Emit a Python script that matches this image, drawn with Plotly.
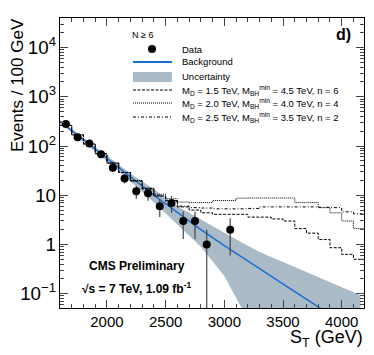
import plotly.graph_objects as go

# Dados (N >= 6)
st_data = [1650, 1750, 1850, 1950, 2050, 2150, 2250, 2350, 2450, 2550, 2650, 2750, 2850, 3050]
n_data = [280, 150, 113, 68, 36, 22, 12, 11, 6, 7, 3, 3, 1, 2]
err_data = [16.7, 12.2, 10.6, 8.2, 6.0, 4.7, 3.5, 3.3, 2.4, 2.6, 1.7, 1.7, 0.999, 1.4]

# Ajuste de fundo
st_bkg = [1600, 1800, 2000, 2200, 2400, 2600, 2800, 3000, 3200, 3400, 3600, 3800, 4000, 4200]
bkg = [316, 132, 55, 22.9, 10, 4.5, 2.0, 0.95, 0.46, 0.22, 0.11, 0.054, 0.027, 0.014]

# Banda de incerteza
st_unc = [1600, 2000, 2200, 2400, 2600, 2700, 2800, 3000, 3150, 3300, 3600, 3800, 4000, 4160]
unc_hi = [339, 62, 27.5, 13.2, 6.0, 4.4, 3.2, 1.74, 1.1, 0.7, 0.35, 0.22, 0.135, 0.093]
unc_lo = [295, 49, 19, 7.2, 2.5, 1.5, 0.9, 0.23, 0.05, 0.01, 0.002, 0.001, 0.001, 0.001]

# Sinais (histogramas, bordas de 100 GeV)
edges = list(range(1600, 4300, 100))
sig_a = [262, 168, 110, 70, 45, 29, 20, 14, 10.5, 8.5, 7.3, 7.1, 7.1, 7.8, 7.8,
         8.7, 8.8, 8.8, 8.8, 8.8, 7.1, 7.1, 5.6, 4.4, 3.0, 2.1]
sig_b = [262, 168, 110, 70, 45, 29, 19.5, 13.5, 9.8, 7.5, 6.0, 5.6, 5.5, 5.3, 5.3,
         5.3, 5.4, 5.8, 5.8, 5.8, 5.8, 5.8, 5.7, 5.6, 4.6, 4.2]
sig_c = [262, 168, 110, 70, 45, 29, 19.5, 13.5, 9.6, 7.8, 5.8, 5.0, 4.4, 4.1, 4.1,
         4.1, 3.6, 3.6, 3.3, 3.0, 2.1, 1.7, 1.26, 0.86, 0.63, 0.5]

labels = [
    "M<sub>D</sub> = 1.5 TeV, M<sub>BH</sub><sup>min</sup> = 4.5 TeV, n = 6",
    "M<sub>D</sub> = 2.0 TeV, M<sub>BH</sub><sup>min</sup> = 4.0 TeV, n = 4",
    "M<sub>D</sub> = 2.5 TeV, M<sub>BH</sub><sup>min</sup> = 3.5 TeV, n = 2",
]
DASH_C, DASH_A, DASH_B = "3px,1.5px", "1px,1px", "3px,2px,1px,2px"

FONT = "Liberation Sans, Arial, sans-serif"

# área do gráfico em pixels da página (corpo da página tem margem de 8px)
PX0, PX1, PY0, PY1 = 60, 364, 18, 308


def px(x):
    return (x - PX0) / (PX1 - PX0)


def py(y):
    return (PY1 - y) / (PY1 - PY0)


def label(x, y, text, size, xanchor='center', angle=0):
    fig.add_annotation(x=px(x), y=py(y), xref='paper', yref='paper', text=text,
                       xanchor=xanchor, yanchor='middle', textangle=angle,
                       showarrow=False, font=dict(size=size, color='black'))


fig = go.Figure()

fig.add_trace(go.Scatter(
    x=st_unc + st_unc[::-1], y=unc_hi + unc_lo[::-1],
    fill='toself', fillcolor='#abbac7', line=dict(width=0),
    mode='lines', name='Uncertainty'
))
fig.add_trace(go.Scatter(
    x=st_bkg, y=bkg, mode='lines', line=dict(color='#1a6fd0', width=1.5),
    name='Background'
))
for ys, dash, lab in [(sig_c, DASH_C, labels[0]),
                      (sig_a, DASH_A, labels[1]),
                      (sig_b, DASH_B, labels[2])]:
    fig.add_trace(go.Scatter(
        x=edges, y=ys + [ys[-1]], mode='lines', line_shape='hv',
        line=dict(color='black', width=1, dash=dash), name=lab
    ))
fig.add_trace(go.Scatter(
    x=st_data, y=n_data, mode='markers',
    marker=dict(size=8, color='black'),
    error_y=dict(type='data', array=err_data, color='#444', thickness=1.2, width=0),
    name='Data'
))

# Legenda desenhada à mão (a legenda do plotly tem linhas altas demais)
leg_rows = [49, 62, 77, 90, 103, 117]
leg_text = ["Data", "Background", "Uncertainty"] + labels
S0, S1, TX = 133, 172, 180
label(130, 35, "N ≥ 6", 9, xanchor='left')
for yrow, t in zip(leg_rows, leg_text):
    label(TX, yrow, t, 9.5, xanchor='left')
fig.add_shape(type='circle', xref='paper', yref='paper',
              x0=px(148), x1=px(156), y0=py(53), y1=py(45),
              fillcolor='black', line=dict(width=0))
fig.add_shape(type='line', xref='paper', yref='paper',
              x0=px(S0), x1=px(S1), y0=py(62), y1=py(62),
              line=dict(color='#1a6fd0', width=2))
fig.add_shape(type='rect', xref='paper', yref='paper',
              x0=px(S0), x1=px(S1), y0=py(82), y1=py(72),
              fillcolor='#abbac7', line=dict(width=0))
for yrow, dash in zip(leg_rows[3:], [DASH_C, DASH_A, DASH_B]):
    fig.add_shape(type='line', xref='paper', yref='paper',
                  x0=px(S0), x1=px(S1), y0=py(yrow), y1=py(yrow),
                  line=dict(color='black', width=1, dash=dash))

label(343, 34, "<b>d)</b>", 16)
label(137, 266, "<b>CMS Preliminary</b>", 12)
label(136, 288, "<b>√s = 7 TeV, 1.09 fb<sup>-1</sup></b>", 12)
label(365, 338, "S<sub>T</sub> (GeV)", 18, xanchor='right')
label(17, 85, "Events / 100 GeV", 17, angle=-90)

fig.update_layout(
    width=366, height=347,
    margin=dict(l=52, r=10, t=10, b=47),
    paper_bgcolor='white', plot_bgcolor='white',
    font=dict(family=FONT, color='black'),
    showlegend=False,
    xaxis=dict(
        range=[1600, 4190], tick0=2000, dtick=500,
        ticks='inside', ticklen=8, mirror='allticks', showline=True,
        linecolor='black', linewidth=1, showgrid=False, zeroline=False,
        tickfont=dict(size=15),
        minor=dict(ticks='inside', ticklen=4, dtick=100, showgrid=False)
    ),
    yaxis=dict(
        type='log', range=[-1.29, 4.6], dtick=1, exponentformat='power',
        ticks='inside', ticklen=8, mirror='allticks', showline=True,
        linecolor='black', linewidth=1, showgrid=False, zeroline=False,
        tickfont=dict(size=15),
        minor=dict(ticks='inside', ticklen=4, dtick='D1', showgrid=False)
    ),
)

fig.write_html("out.html")
